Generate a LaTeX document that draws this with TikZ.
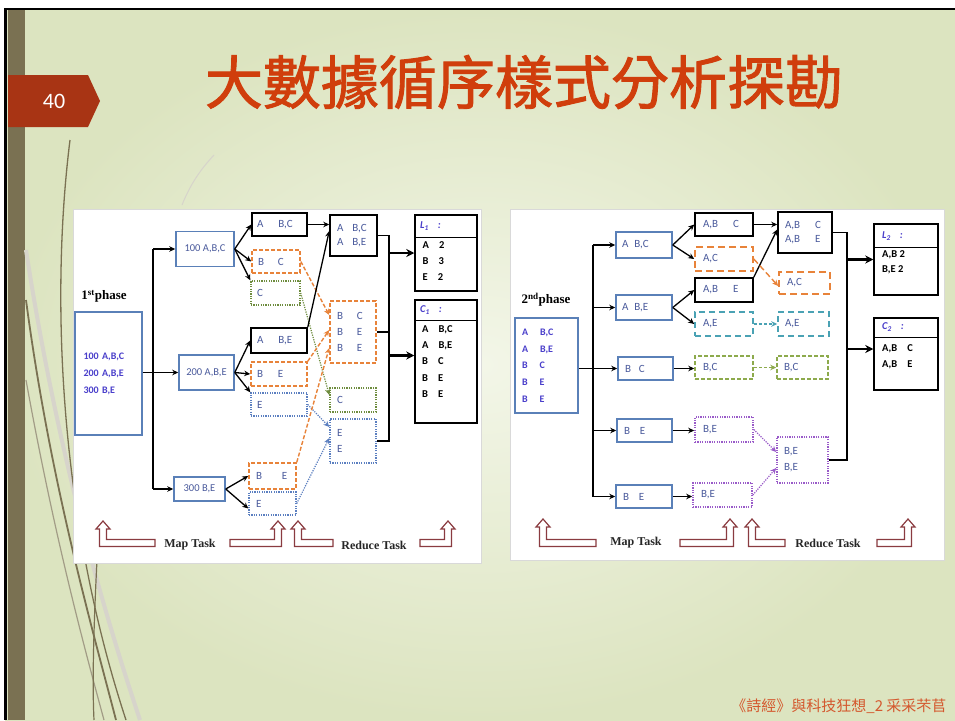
\documentclass[tikz,border=0pt]{standalone}
\usepackage{fontspec}
\setmainfont{Carlito}
\newfontfamily\cjk{Noto Sans CJK TC}
\newfontfamily\cjkt[FakeBold=1.6]{Noto Sans CJK TC}
\newfontfamily\serifb{Liberation Serif}
\usetikzlibrary{arrows.meta,calc}
\definecolor{bgc}{HTML}{DCE4C0}
\definecolor{bgl}{HTML}{F3F6E8}
\definecolor{colive}{HTML}{7A7152}
\definecolor{tabred}{HTML}{A83414}
\definecolor{titlec}{HTML}{D03E0C}
\definecolor{boxblue}{HTML}{5A80B8}
\definecolor{txtblue}{HTML}{4A5A9C}
\definecolor{inblue}{HTML}{4A3FCB}
\definecolor{orng}{HTML}{E8833A}
\definecolor{grnd}{HTML}{6E8C3E}
\definecolor{bldot}{HTML}{5B7FC0}
\definecolor{cteal}{HTML}{4AA2B4}
\definecolor{lgrn}{HTML}{8DAA4C}
\definecolor{purp}{HTML}{9A5BC9}
\definecolor{darkred}{HTML}{8A3B40}
\definecolor{footc}{HTML}{D4582E}
\newcommand\dfnt{\fontsize{11}{16}\selectfont}
\newcommand\hollowL[4]{% tip x, tip y, base y, end x
  \filldraw[hollow] (#1,#2) -- ++(7,8) -- ++(-3.5,0) -- (#1+3.5,#3-3.5) -- (#4,#3-3.5) -- (#4,#3+3.5) -- (#1-3.5,#3+3.5) -- (#1-3.5,#2+8) -- ++(-3.5,0) -- cycle;}
\newcommand\hollowR[4]{% start x, tip x, tip y, base y
  \filldraw[hollow] (#2,#3) -- ++(7,8) -- ++(-3.5,0) -- (#2+3.5,#4+3.5) -- (#1,#4+3.5) -- (#1,#4-3.5) -- (#2-3.5,#4-3.5) -- (#2-3.5,#3+8) -- ++(-3.5,0) -- cycle;}
\begin{document}
\begin{tikzpicture}[x=1pt,y=-1pt,
  bx/.style={draw, line width=1.3pt, inner sep=0pt, font=\dfnt, text=txtblue},
  bb/.style={bx, draw=boxblue, line width=1.5pt},
  kb/.style={bx, draw=black, line width=1.5pt},
  ob/.style={bx, draw=orng, dash pattern=on 4pt off 2pt, line width=1.6pt},
  odsh/.style={bx, draw=orng, dash pattern=on 7pt off 4pt, line width=1.6pt},
  gdot/.style={bx, draw=grnd, dash pattern=on 1.2pt off 1.2pt, line width=1.4pt},
  bdot/.style={bx, draw=bldot, dash pattern=on 1.2pt off 1.2pt, line width=1.4pt},
  tdsh/.style={bx, draw=cteal, dash pattern=on 6pt off 4pt, line width=1.5pt},
  gdsh/.style={bx, draw=lgrn, dash pattern=on 4pt off 2pt, line width=1.5pt},
  pdot/.style={bx, draw=purp, dash pattern=on 1.2pt off 1.2pt, line width=1.6pt},
  sz/.style n args={3}{minimum width=#1pt, minimum height=#2pt, text width=#3pt, align=left},
  arr/.style={-{Stealth[length=6pt,width=5.5pt]}, line width=1.3pt, black},
  ln/.style={line width=1.3pt, black},
  tln/.style={line width=1.8pt, black},
  tarr/.style={-{Stealth[length=8pt,width=8pt]}, line width=2.2pt, black},
  oarr/.style={-{Stealth[length=6pt,width=5.5pt]}, orng, line width=1.4pt, dash pattern=on 4pt off 2pt},
  garr/.style={-{Stealth[length=6pt,width=5.5pt]}, grnd, line width=1.2pt, dash pattern=on 1.2pt off 1.2pt},
  barr/.style={-{Stealth[length=6pt,width=5.5pt]}, bldot, line width=1.2pt, dash pattern=on 1.2pt off 1.2pt},
  carr/.style={-{Stealth[length=6pt,width=5.5pt]}, cteal, line width=1.3pt, dash pattern=on 3pt off 2pt},
  lgarr/.style={-{Stealth[length=6pt,width=5.5pt]}, lgrn, line width=1.4pt, dash pattern=on 3pt off 2pt},
  parr/.style={-{Stealth[length=6pt,width=5.5pt]}, purp, line width=1.2pt, dash pattern=on 1.2pt off 1.2pt},
  hollow/.style={fill=white, draw=darkred, line width=1.2pt, line join=miter},
  lbl/.style={font=\serifb\bfseries\fontsize{12}{14}\selectfont, text=black!85},
  res/.style={anchor=west, align=left, font=\fontsize{10.5}{16.4}\selectfont\bfseries, text=black, inner sep=0pt},
  hdr/.style={anchor=west, font=\fontsize{10.5}{12}\selectfont\itshape\bfseries, text=inblue, inner sep=0pt}
]
\useasboundingbox (0,0) rectangle (955,720);
% ---------- slide background ----------
\fill[white] (0,0) rectangle (955,720);
\shade[inner color=bgl, outer color=bgc] (5,9) rectangle (955,720);
\fill[colive] (8,10) rectangle (25,720);
\draw[black, line width=2.5pt] (4,9) -- (955,9);
\draw[black, line width=3pt] (5,8) -- (5,720);
% decorative curves
\draw[colive!30, line width=4pt] (26,250) .. controls (60,470) and (110,630) .. (140,720);
\draw[colive, line width=1.3pt] (70,140) .. controls (50,300) and (60,520) .. (126,720);
\draw[colive, line width=1.8pt] (26,300) .. controls (50,480) and (90,620) .. (116,720);
\draw[colive!70, line width=1.2pt] (26,380) .. controls (55,540) and (85,650) .. (104,720);
\draw[colive, line width=1.2pt] (97,560) .. controls (94,620) and (92,680) .. (94,720);
\draw[colive!30, line width=1pt] (214,155) .. controls (200,170) and (190,185) .. (182,205);
% page tab
\fill[tabred] (8,75) -- (88,75) -- (100,101) -- (88,127) -- (8,127) -- cycle;
\node[text=white, font=\fontsize{22}{24}\selectfont] (pnum) at (54,101) {40};
% title and footer
\node[font=\cjkt\fontsize{58}{64}\selectfont, text=titlec] (title) at (524,82) {大數據循序樣式分析探勘};
\node[font=\cjk\fontsize{15}{17}\selectfont, text=footc, anchor=east] (foot) at (950,706) {《詩經》與科技狂想\_2 采采芣苢};
% panels
\filldraw[fill=white, draw=black!15, line width=0.6pt] (73,209) rectangle (481,563);
\filldraw[fill=white, draw=black!15, line width=0.6pt] (510,209) rectangle (944,560);

% ================= 1st phase =================
\node[font=\serifb\bfseries\fontsize{13}{15}\selectfont] (ph1) at (104,296) {1\textsuperscript{st}phase};
\node[bb, minimum width=67pt, minimum height=123pt, text width=50pt, align=left,
      font=\fontsize{10}{17}\selectfont\bfseries, text=inblue] (in1) at (108.5,373.5) {100 A,B,C\\200 A,B,E\\300 B,E};
\node[bb, minimum width=58pt, minimum height=35pt, font=\fontsize{10.5}{12}\selectfont] (m1) at (205,249) {100 A,B,C};
\node[bb, minimum width=55pt, minimum height=35pt, font=\fontsize{10.5}{12}\selectfont] (m2) at (206.5,372.5) {200 A,B,E};
\node[bb, minimum width=51pt, minimum height=24pt, font=\fontsize{10.5}{12}\selectfont] (m3) at (199.5,489) {300 B,E};

\node[kb, sz={55}{23}{45}] (o1) at (279.5,224.5) {A\hspace{15pt}B,C};
\node[ob, sz={48}{23}{36}] (o2) at (276,261.5) {B\hspace{14pt}C};
\node[gdot, sz={49}{24}{37}] (o3) at (275.5,293) {C};
\node[kb, sz={56}{25}{44}] (o4) at (279,340.5) {A\hspace{15pt}B,E};
\node[ob, sz={56}{24}{44}] (o5) at (279,374) {B\hspace{15pt}E};
\node[bdot, sz={56}{23}{44}] (o6) at (279,404.5) {E};
\node[ob, sz={47}{26}{33}] (o7) at (272.5,476) {B\hspace{20pt}E};
\node[bdot, sz={47}{23}{33}] (o8) at (272.5,503.5) {E};

\node[kb, sz={47}{41}{33}, font=\fontsize{11}{14.5}\selectfont] (r1) at (353.5,235.5) {A\hspace{9pt}B,C\\A\hspace{9pt}B,E};
\node[ob, sz={46}{62}{32}] (r2) at (353,332) {B\hspace{14pt}C\\B\hspace{14pt}E\\B\hspace{14pt}E};
\node[gdot, sz={46}{24}{32}] (r3) at (353,400) {C};
\node[bdot, sz={46}{44}{32}] (r4) at (353,441) {E\\E};

\node[kb, minimum width=62pt, minimum height=76pt] (L1) at (446,253) {};
\draw[line width=1pt] (L1.west |- 0,237) -- (L1.east |- 0,237);
\node[hdr] (L1h) at (420,226) {L\textsubscript{1}\hspace{9pt}:};
\node[res] (L1t) at (422.5,261) {A\hspace{10pt}2\\B\hspace{10pt}3\\E\hspace{10pt}2};
\node[kb, minimum width=62pt, minimum height=123pt] (C1) at (446,361.5) {};
\draw[line width=1pt] (C1.west |- 0,320) -- (C1.east |- 0,320);
\node[hdr] (C1h) at (420,310) {C\textsubscript{1}\hspace{9pt}:};
\node[res] (C1t) at (422,361.5) {A\hspace{10pt}B,C\\A\hspace{10pt}B,E\\B\hspace{10pt}C\\B\hspace{10pt}E\\B\hspace{10pt}E};

% connectors 1st phase
\coordinate (lbT) at (153,249);
\coordinate (lbB) at (153,489);
\draw[arr] (in1.east |- m2.west) -- (m2.west);
\draw[ln] (lbT) -- (lbB);
\draw[arr] (lbT) -- (m1.west);
\draw[arr] (lbB) -- (m3.west);
\draw[arr] (m1.east) -- (o1.west);
\draw[arr] (m1.east) -- (o2.west);
\draw[arr] (m1.east) -- (o3.north west);
\draw[arr] (m2.east) -- (o4.west);
\draw[arr] (m2.east) -- (o5.west);
\draw[arr] (m2.east) -- (o6.north west);
\draw[arr] (m3.east) -- (o7.west);
\draw[arr] (m3.east) -- ($(o8.west)+(0,5)$);
\draw[garr] (o3.east) -- ($(r3.west)+(0,-5)$);
\draw[barr] (o6.east) -- ($(r4.west)+(0,-14)$);
\draw[barr] (o8.east) -- ($(r4.west)+(0,-3)$);
\draw[oarr] (o2.east) -- ($(r2.west)+(0,-17)$);
\draw[oarr] (o5.north east) -- ($(r2.west)+(0,-2)$);
\draw[oarr] (o7.north east) -- ($(r2.west)+(0,16)$);
\draw[arr] (o1.east) -- (o1.east -| r1.west);
\draw[arr] (o4.north east) -- ($(r1.west)+(0,-4.5)$);
\coordinate (lbusT) at (389,235.5);
\coordinate (lbusB) at (389,441);
\draw[tln] (r1.east) -- (lbusT) -- (lbusB) -- (r4.east);
\draw[tln] (r2.east) -- (r2.east -| lbusT);
\draw[tarr] (lbusT |- L1.west) -- (L1.west);
\draw[tarr] ($(lbusT |- C1.west)+(0,-6)$) -- ($(C1.west)+(0,-6)$);

% bottom hollow arrows (left)
\hollowL{103}{521}{543}{155}
\hollowR{230}{278}{521}{543}
\hollowL{298}{521}{543}{333}
\hollowR{420}{448}{521}{543}
\node[lbl] (mt1) at (190,545) {Map Task};
\node[lbl] (rt1) at (374,545) {Reduce Task};

% ================= 2nd phase =================
\node[font=\serifb\bfseries\fontsize{13}{15}\selectfont] (ph2) at (546,300) {2\textsuperscript{nd}phase};
\node[bb, minimum width=63pt, minimum height=95pt, text width=49pt, align=left,
      font=\fontsize{10}{16.75}\selectfont\bfseries, text=inblue] (in2) at (546.5,365.5)
      {A\hspace{12pt}B,C\\A\hspace{12pt}B,E\\B\hspace{12pt}C\\B\hspace{12pt}E\\B\hspace{12pt}E};
\node[bb, sz={56}{26}{44}] (s1) at (644,245) {A\hspace{6pt}B,C};
\node[bb, sz={56}{25}{44}] (s2) at (644,307.5) {A\hspace{6pt}B,E};
\node[bb, sz={55}{23}{41}] (s3) at (645.5,368.5) {B\hspace{8pt}C};
\node[bb, sz={55}{23}{41}] (s4) at (644.5,430.5) {B\hspace{10pt}E};
\node[bb, sz={56}{23}{42}] (s5) at (644,496.5) {B\hspace{10pt}E};

\node[kb, sz={58}{23}{42}] (t1) at (724,224.5) {A,B\hspace{15pt}C};
\node[odsh, sz={58}{24}{42}] (t2) at (724,259) {A,C};
\node[kb, sz={58}{24}{42}] (t3) at (724,290) {A,B\hspace{15pt}E};
\node[tdsh, sz={58}{24}{42}] (t4) at (724,324) {A,E};
\node[gdsh, sz={58}{23}{42}] (t5) at (724,367.5) {B,C};
\node[pdot, sz={58}{25}{42}] (t6) at (724,429.5) {B,E};
\node[pdot, sz={59}{24}{43}] (t7) at (722.5,495) {B,E};

\node[kb, sz={54}{41}{40}, font=\fontsize{11}{14.5}\selectfont] (u1) at (805,232.5) {A,B\hspace{15pt}C\\A,B\hspace{15pt}E};
\node[odsh, sz={51}{22}{35}] (u2) at (804.5,283) {A,C};
\node[tdsh, sz={51}{24}{37}] (u3) at (803.5,324) {A,E};
\node[gdsh, sz={51}{23}{37}] (u4) at (802.5,367.5) {B,C};
\node[pdot, sz={51}{46}{37}] (u5) at (802.5,460) {B,E\\B,E};

\node[kb, minimum width=64pt, minimum height=71pt] (L2) at (906,259.5) {};
\draw[line width=1pt] (L2.west |- 0,247) -- (L2.east |- 0,247);
\node[hdr] (L2h) at (882,236) {L\textsubscript{2}\hspace{9pt}:};
\node[res, font=\fontsize{10.5}{15}\selectfont\bfseries] (L2t) at (882,262.5) {A,B 2\\B,E 2};
\node[kb, minimum width=64pt, minimum height=72pt] (C2) at (906,354) {};
\draw[line width=1pt] (C2.west |- 0,337) -- (C2.east |- 0,337);
\node[hdr] (C2h) at (882,327) {C\textsubscript{2}\hspace{9pt}:};
\node[res, font=\fontsize{10.5}{16}\selectfont\bfseries] (C2t) at (882,357) {A,B\hspace{10pt}C\\A,B\hspace{10pt}E};

% connectors 2nd phase
\coordinate (sbT) at (593,245);
\coordinate (sbB) at (593,496.5);
\draw[arr] (in2.east |- s3.west) -- (s3.west);
\draw[ln] (sbT) -- (sbB);
\draw[arr] (sbT) -- (s1.west);
\draw[arr] (sbT |- s2.west) -- (s2.west);
\draw[arr] (sbT |- s4.west) -- (s4.west);
\draw[arr] (sbB) -- (s5.west);
\draw[arr] (s1.east) -- (t1.west);
\draw[arr] (s1.east) -- (t2.west);
\draw[arr] (s2.east) -- (t3.west);
\draw[arr] (s2.east) -- (t4.west);
\draw[arr] (s3.east) -- (s3.east -| t5.west);
\draw[arr] (s4.east) -- (s4.east -| t6.west);
\draw[arr] (s5.east) -- (s5.east -| t7.west);
\draw[arr] (t1.east) -- (t1.east -| u1.west);
\draw[arr] (t3.north east) -- ($(u1.west)+(0,-3)$);
\draw[oarr, dash pattern=on 6pt off 3pt] (t2.east) -- ($(u2.west)+(0,3)$);
\draw[carr] (t4.east) -- (u3.west);
\draw[lgarr] (t5.east) -- (u4.west);
\draw[parr] (t6.east) -- ($(u5.west)+(0,-8)$);
\draw[parr] (t7.east) -- ($(u5.west)+(0,8)$);
\coordinate (rbT) at (847,232.5);
\coordinate (rbB) at (847,460);
\draw[tln] (u1.east) -- (rbT) -- (rbB) -- (u5.east);
\draw[tarr] (rbT |- L2.west) -- (L2.west);
\draw[tarr] ($(rbT |- C2.west)+(0,-5)$) -- ($(C2.west)+(0,-5)$);

% bottom hollow arrows (right)
\hollowL{543}{519}{543}{596}
\hollowR{680}{730}{519}{543}
\hollowL{752}{519}{543}{785}
\hollowR{877}{908}{519}{543}
\node[lbl] (mt2) at (636,543) {Map Task};
\node[lbl] (rt2) at (828,543) {Reduce Task};
\end{tikzpicture}
\end{document}
